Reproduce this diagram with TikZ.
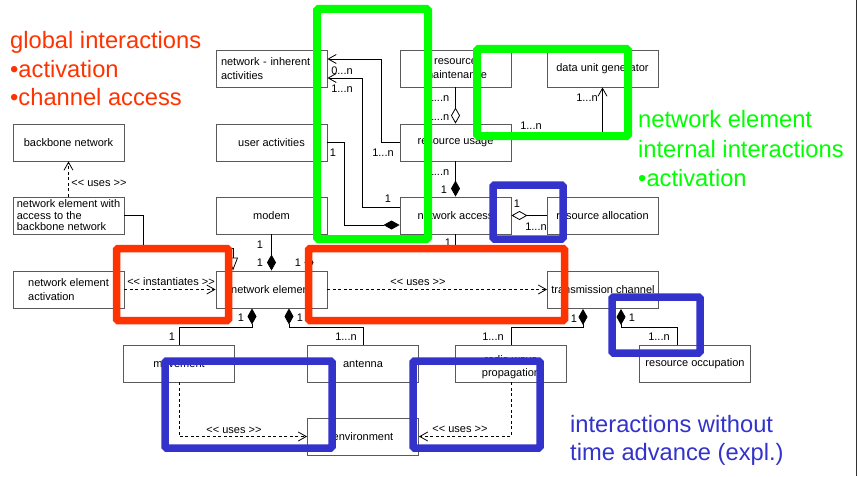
\documentclass[tikz,border=0pt]{standalone}
\usepackage{fontspec}
\setmainfont{Liberation Sans}
\usetikzlibrary{arrows.meta}
\definecolor{hlred}{RGB}{255,51,0}
\definecolor{hlgreen}{RGB}{0,255,0}
\definecolor{hlblue}{RGB}{51,51,204}
\definecolor{boxgray}{RGB}{90,90,90}
\newcommand\dlt{<\kern0pt<}
\newcommand\dgt{>\kern0pt>}
\begin{document}
\begin{tikzpicture}[x=1pt,y=-1pt,
  umlbox/.style={draw=boxgray, line width=0.9pt, minimum width=111pt, minimum height=37pt, inner sep=0pt, font=\fontsize{11}{14}\selectfont, align=center},
  lbl/.style={inner sep=0pt, font=\fontsize{11}{13}\selectfont},
  conn/.style={draw=black, line width=0.8pt},
  openarr/.style={conn, -{Straight Barb[length=8pt,width=9pt]}},
  dep/.style={conn, dash pattern=on 3pt off 2.5pt, -{Straight Barb[length=8pt,width=9pt]}},
  comp/.style={conn, {Diamond[length=16pt,width=9pt]}-},
  aggr/.style={conn, {Diamond[open,length=16pt,width=9pt]}-},
  inh/.style={conn, -{Triangle[open,length=13pt,width=10pt]}},
  hl/.style={line width=7.5pt, rounded corners=1.5pt},
  big/.style={inner sep=0pt, anchor=base west, font=\fontsize{23.7}{28}\selectfont},
]
\useasboundingbox (0,0) rectangle (858,476);
\fill[white] (0,0) rectangle (858,476);

% ---------- boxes ----------
\node[umlbox, text width=101pt, align=left, inner xsep=5pt] (ni) at (271.5,68.5) {network - inherent\\activities};
\node[umlbox] (rm) at (455.5,68.5) {resource\\maintenance};
\node[umlbox] (dug) at (602.5,68.5) {data unit generator};
\node[umlbox] (bb) at (68.5,142.5) {backbone network};
\node[umlbox] (ua) at (271.5,142.5) {user activities};
\node[umlbox] (ru) at (455.5,142.5) {resource usage};
\node[umlbox, align=left, font=\fontsize{11}{11.5}\selectfont] (nbb) at (68.5,215.5) {network element with\\access to the\\backbone network};
\node[umlbox] (mo) at (271.5,215.5) {modem};
\node[umlbox] (na) at (455.5,215.5) {network access};
\node[umlbox] (ra) at (602.5,215.5) {resource allocation};
\node[umlbox, align=left] (nea) at (68.5,289.5) {network element\\activation};
\node[umlbox] (ne) at (271.5,289.5) {network element};
\node[umlbox] (tc) at (603,290) {transmission channel};
\node[umlbox] (mv) at (179,363.5) {movement};
\node[umlbox] (an) at (363,363.5) {antenna};
\node[umlbox] (rw) at (511,363.5) {};
\node[lbl, align=center] (rwt) at (511,367) {radio wave\\propagation};
\node[umlbox] (ro) at (695,363.5) {resource occupation};
\node[umlbox] (env) at (363,436.5) {environment};

% ---------- connectors ----------
\draw[openarr] (ru.west) -- ++(-18,0) |- ([yshift=9.5pt]ni.east);
\draw[openarr] ([yshift=8.5pt]na.west) -- ++(-37,0) |- ([yshift=-9.5pt]ni.east);
\draw[comp] ([yshift=-9.5pt]na.west) -- ++(-55,0) |- (ua.east);
\draw[aggr] (ru.north) -- (rm.south);
\draw[comp] (na.north) -- (ru.south);
\draw[openarr] ([yshift=10.5pt]ru.east) -| (dug.south);
\draw[aggr] (na.east) -- (ra.west);
\draw[comp] ([xshift=37.5pt]ne.north) -- ++(0,-22) -| (na.south);
\draw[comp] (ne.north) -- (mo.south);
\draw[inh] (nbb.east) -- ++(19,0) |- ([xshift=-38.5pt,yshift=22pt]ne.north) -- ([xshift=-38.5pt]ne.north);
\draw[dep] (nbb.north) -- (bb.south);
\draw[dep] (nea.east) -- (ne.west);
\draw[dep] (ne.east) -- (ne.east -| tc.west);
\draw[comp] ([xshift=-19.5pt]ne.south) -- ++(0,19) -| (mv.north);
\draw[comp] ([xshift=17.5pt]ne.south) -- ++(0,19) -| (an.north);
\draw[comp] ([xshift=-20pt]tc.south) -- ++(0,18) -| (rw.north);
\draw[comp] ([xshift=18pt]tc.south) -- ++(0,18) -| ([xshift=-18pt]ro.north);
\draw[dep] (mv.south) |- (env.west);
\draw[dep] (rw.south) |- (env.east);

% ---------- multiplicities ----------
\node[lbl] (m1) at (342,71) {0...n};
\node[lbl] (m2) at (342,89) {1...n};
\node[lbl] (m3) at (383,153) {1...n};
\node[lbl] (m4) at (333,153) {1};
\node[lbl] (m5) at (388,199) {1};
\node[lbl] (m6) at (438.5,98) {1...n};
\node[lbl] (m7) at (438.5,117) {1...n};
\node[lbl] (m8) at (438.5,172) {1...n};
\node[lbl] (m9) at (444,190) {1};
\node[lbl] (m10) at (531,126) {1...n};
\node[lbl] (m11) at (587,98) {1...n};
\node[lbl] (m12) at (517,204) {1};
\node[lbl] (m13) at (536,227) {1...n};
\node[lbl] (m14) at (448,243) {1};
\node[lbl] (m15) at (260,245) {1};
\node[lbl] (m16) at (260,263) {1};
\node[lbl] (m17) at (298,263) {1};
\node[lbl] (m18) at (241,318) {1};
\node[lbl] (m19) at (300,318) {1};
\node[lbl] (m20) at (172,337) {1};
\node[lbl] (m21) at (346,337) {1...n};
\node[lbl] (m22) at (574,319) {1};
\node[lbl] (m23) at (493,337) {1...n};
\node[lbl] (m24) at (632,318) {1};
\node[lbl] (m25) at (659,337) {1...n};

% ---------- stereotypes ----------
\node[lbl] (s1) at (99,183) {\dlt{} uses \dgt};
\node[lbl] (s2) at (171,282) {\dlt{} instantiates \dgt};
\node[lbl] (s3) at (418,282) {\dlt{} uses \dgt};
\node[lbl] (s4) at (234,430) {\dlt{} uses \dgt};
\node[lbl] (s5) at (460,429) {\dlt{} uses \dgt};

% ---------- highlight frames ----------
\draw[hl, hlgreen, line width=8pt] (317,9) rectangle (428,239);
\draw[hl, hlgreen, line width=8pt] (477,49) rectangle (628,136);
\draw[hl, hlred] (116.5,248.5) rectangle (228.5,320.5);
\draw[hl, hlred] (308.5,248.5) rectangle (564.5,320.5);
\draw[hl, hlblue] (493,185) rectangle (563,239);
\draw[hl, hlblue] (612,297) rectangle (700,353);
\draw[hl, hlblue] (165,361) rectangle (332,448);
\draw[hl, hlblue] (413,361) rectangle (540,448);

% ---------- annotations ----------
\node[big, text=hlred] (g1) at (10,49) {global interactions};
\node[big, text=hlred] (g2) at (10,78) {•activation};
\node[big, text=hlred] (g3) at (10,106) {•channel access};
\node[big, text=hlgreen] (n1) at (638,128) {network element};
\node[big, text=hlgreen] (n2) at (638,157) {internal interactions};
\node[big, text=hlgreen] (n3) at (638,186) {•activation};
\node[big, text=hlblue] (b1) at (570,432) {interactions without};
\node[big, text=hlblue] (b2) at (570,460) {time advance (expl.)};

% right border
\draw[black!80, line width=1pt] (856,0) -- (856,476);
\end{tikzpicture}
\end{document}
